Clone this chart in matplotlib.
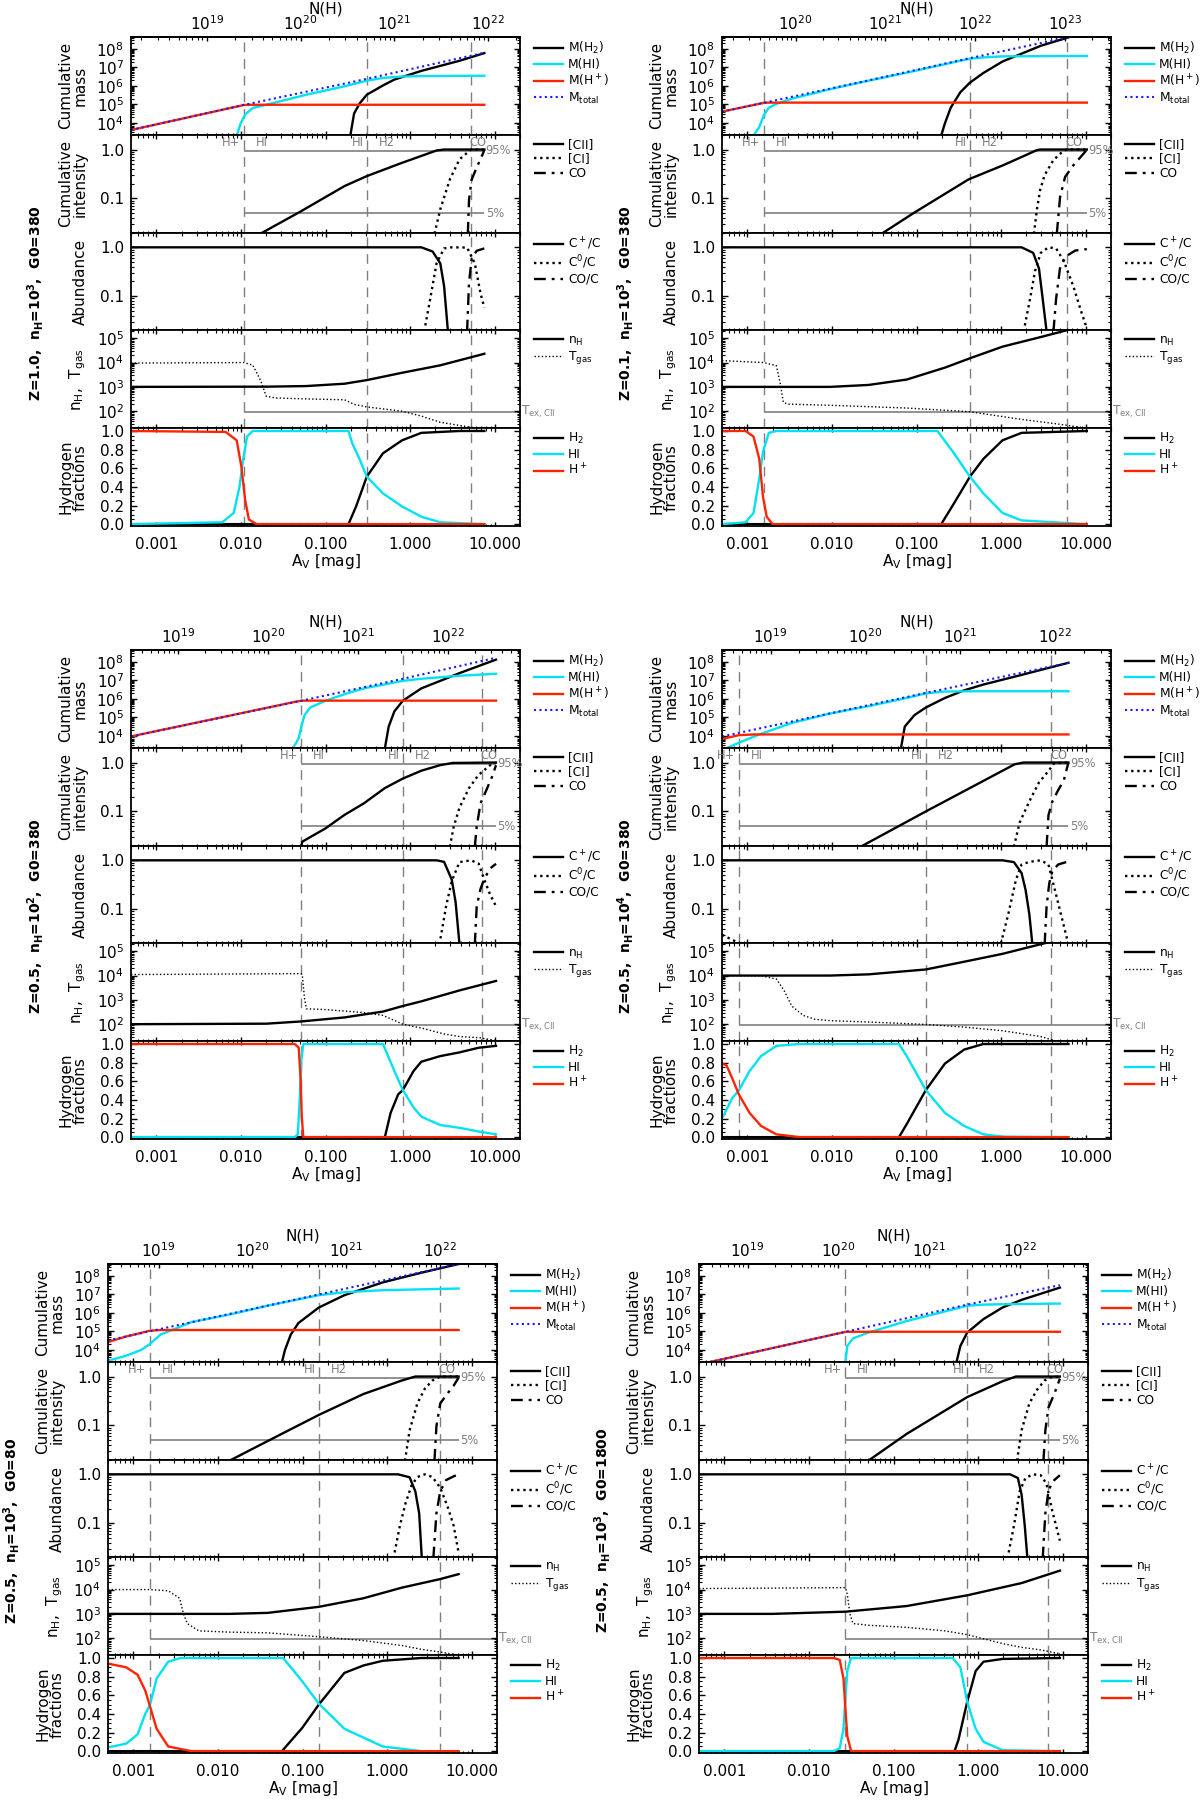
import numpy as np
import matplotlib
matplotlib.use('Agg')
import matplotlib.pyplot as plt
from matplotlib.ticker import (FixedLocator, FixedFormatter, NullFormatter,
                               LogLocator, LogFormatterSciNotation,
                               MultipleLocator, FormatStrFormatter)

plt.rcParams['font.family'] = ['DejaVu Sans']
plt.rcParams['mathtext.default'] = 'regular'
plt.rcParams['axes.linewidth'] = 1.3

# ---------------- axis labels / ticks ----------------
XTICKS = [1e-3, 1e-2, 1e-1, 1.0, 10.0]
XTICKLABELS = ['0.001', '0.010', '0.100', '1.000', '10.000']
YLABELS = ['Cumulative\nmass', 'Cumulative\nintensity', 'Abundance',
           'n$_H$,  T$_{gas}$', 'Hydrogen\nfractions']
LEG_MASS = ['M(H$_2$)', 'M(HI)', 'M(H$^+$)', 'M$_{total}$']
LEG_INT = ['[CII]', '[CI]', 'CO']
LEG_AB = ['C$^+$/C', 'C$^0$/C', 'CO/C']
LEG_NT = ['n$_H$', 'T$_{gas}$']
LEG_H = ['H$_2$', 'HI', 'H$^+$']
TEX_CII = 91.2

# ================= Panel 1: Z=1.0, nH=1e3, G0=380 =================
P1_TITLE = r'Z=1.0,  n$_\mathbf{H}$=10$^\mathbf{3}$,  G0=380'
P1_BOUNDS = [0.0108, 0.308, 5.26]
P1_AVEND = 7.57
P1_NH_AV = [0.00394, 8.41]
P1_NH_DEC = [19, 22]
P1_MH2_AV = [0.197, 0.218, 0.255, 0.308, 0.478, 0.653, 1.36, 3.85, 7.57]
P1_MH2 = [2.1e3, 3.2e4, 1.15e5, 3.3e5, 1.05e6, 2.2e6, 6.5e6, 2.3e7, 6.0e7]
P1_MHI_AV = [0.0089, 0.0100, 0.0112, 0.0138, 0.0209, 0.0352, 0.0593, 0.168, 0.308, 0.478, 0.805, 1.36, 7.57]
P1_MHI = [2.0e3, 1.0e4, 2.8e4, 6.3e4, 1.0e5, 1.8e5, 3.3e5, 9.5e5, 1.9e6, 2.7e6, 3.2e6, 3.4e6, 3.55e6]
P1_MHP_AV = [5e-4, 0.0095, 0.0108, 0.013, 7.57]
P1_MHP = [4.0e3, 8.0e4, 9.2e4, 9.4e4, 9.4e4]
P1_MTOT_AV = [5e-4, 0.0108, 0.308, 7.57]
P1_MTOT = [4.0e3, 9.2e4, 2.4e6, 6.3e7]
P1_CII_AV = [0.0170, 0.0507, 0.168, 0.308, 0.805, 2.06, 2.53, 7.57]
P1_CII = [0.019, 0.054, 0.179, 0.286, 0.535, 0.955, 1.0, 1.0]
P1_CI_AV = [1.95, 2.28, 2.96, 3.85, 5.26, 7.57]
P1_CI = [0.019, 0.060, 0.245, 0.63, 1.0, 1.0]
P1_CO_AV = [4.83, 4.99, 5.37, 6.15, 7.34, 7.57]
P1_CO = [0.019, 0.095, 0.245, 0.43, 0.85, 1.0]
P1_CP_AV = [5e-4, 1.36, 1.85, 2.28, 2.53, 2.81]
P1_CP = [1.0, 1.0, 0.82, 0.47, 0.16, 0.019]
P1_C0_AV = [1.47, 1.67, 2.06, 2.53, 3.12, 4.73, 5.84, 6.82, 7.57]
P1_C0 = [0.019, 0.062, 0.47, 0.95, 1.0, 0.99, 0.47, 0.115, 0.058]
P1_COC_AV = [4.73, 4.99, 5.37, 6.15, 7.57]
P1_COC = [0.019, 0.19, 0.60, 0.85, 0.95]
P1_NHD_AV = [5e-4, 0.02, 0.059, 0.168, 0.308, 0.805, 2.28, 7.57]
P1_NHD = [1000, 1020, 1080, 1350, 1900, 3800, 7700, 23000]
P1_T_AV = [5e-4, 0.0108, 0.0138, 0.0170, 0.0199, 0.0258, 0.059, 0.168, 0.218, 0.308, 0.805, 1.36, 2.28, 3.85, 7.57]
P1_T = [9500, 10000, 7800, 1900, 410, 350, 320, 295, 190, 150, 100, 63, 35, 26, 18]
P1_FH2_AV = [5e-4, 0.187, 0.230, 0.308, 0.478, 0.805, 1.36, 3.85, 7.57]
P1_FH2 = [0.0, 0.0, 0.19, 0.51, 0.76, 0.90, 0.98, 1.0, 1.0]
P1_FHI_AV = [5e-4, 0.0060, 0.0082, 0.0096, 0.0106, 0.0118, 0.0138, 0.187, 0.207, 0.255, 0.308, 0.478, 0.805, 1.36, 2.28, 7.57]
P1_FHI = [0.0, 0.02, 0.12, 0.40, 0.69, 0.94, 1.0, 1.0, 0.87, 0.69, 0.51, 0.33, 0.19, 0.08, 0.02, 0.0]
P1_FHP_AV = [5e-4, 0.0066, 0.0089, 0.0101, 0.0112, 0.0124, 0.0153, 7.57]
P1_FHP = [1.0, 0.99, 0.90, 0.62, 0.26, 0.05, 0.0, 0.0]

# ================= Panel 2: Z=0.1, nH=1e3, G0=380 =================
P2_TITLE = r'Z=0.1,  n$_\mathbf{H}$=10$^\mathbf{3}$,  G0=380'
P2_BOUNDS = [0.00156, 0.429, 6.0]
P2_AVEND = 10.35
P2_NH_AV = [0.00371, 5.70]
P2_NH_DEC = [20, 23]
P2_MH2_AV = [0.196, 0.217, 0.254, 0.330, 0.429, 0.618, 1.04, 1.75, 2.95, 6.47, 10.35]
P2_MH2 = [2.0e3, 9.3e3, 6.5e4, 4.5e5, 1.5e6, 5.0e6, 2.1e7, 5.6e7, 1.5e8, 4.5e8, 7.9e8]
P2_MHI_AV = [0.00118, 0.00138, 0.00156, 0.00179, 0.00220, 0.00334, 0.00949, 0.0270, 0.0766, 0.217, 0.429, 0.618, 1.04, 10.35]
P2_MHI = [2.0e3, 5.8e3, 2.5e4, 6.5e4, 1.05e5, 2.0e5, 6.6e5, 1.9e6, 5.2e6, 1.5e7, 3.0e7, 3.5e7, 4.0e7, 4.2e7]
P2_MHP_AV = [5e-4, 0.00140, 0.00156, 0.0018, 10.35]
P2_MHP = [4.0e4, 1.07e5, 1.2e5, 1.23e5, 1.23e5]
P2_MTOT_AV = [5e-4, 0.00156, 0.0245, 0.429, 10.35]
P2_MTOT = [4.0e4, 1.2e5, 1.8e6, 3.2e7, 7.2e8]
P2_CII_AV = [0.0388, 0.092, 0.413, 1.07, 2.65, 2.9, 10.35]
P2_CII = [0.019, 0.05, 0.245, 0.48, 0.97, 1.0, 1.0]
P2_CI_AV = [2.45, 2.66, 2.9, 3.28, 4.17, 5.47, 6.0, 10.35]
P2_CI = [0.019, 0.06, 0.148, 0.30, 0.61, 0.94, 1.0, 1.0]
P2_CO_AV = [4.57, 5.0, 5.73, 7.2, 9.9, 10.35]
P2_CO = [0.019, 0.108, 0.277, 0.48, 0.90, 1.0]
P2_CP_AV = [5e-4, 1.75, 2.40, 2.81, 3.11, 3.46]
P2_CP = [1.0, 1.0, 0.77, 0.37, 0.089, 0.019]
P2_C0_AV = [1.85, 2.16, 2.53, 2.95, 3.64, 4.48, 5.52, 7.17, 8.83, 10.35]
P2_C0 = [0.019, 0.073, 0.33, 0.77, 1.0, 0.95, 0.53, 0.16, 0.05, 0.022]
P2_COC_AV = [4.17, 4.48, 4.98, 5.82, 7.57, 10.35]
P2_COC = [0.019, 0.088, 0.37, 0.65, 0.86, 0.92]
P2_NHD_AV = [5e-4, 0.00949, 0.027, 0.0766, 0.217, 0.429, 1.04, 2.95, 10.35]
P2_NHD = [1000, 1000, 1200, 2000, 6200, 15000, 45000, 112000, 350000]
P2_T_AV = [5e-4, 0.00156, 0.00220, 0.00244, 0.00266, 0.00301, 0.00949, 0.0766, 0.429, 1.75, 4.98, 10.35]
P2_T = [12000, 10000, 7400, 1450, 230, 195, 175, 135, 95, 46, 29, 20]
P2_FH2_AV = [5e-4, 0.196, 0.268, 0.429, 0.618, 1.04, 1.75, 10.35]
P2_FH2 = [0.0, 0.0, 0.20, 0.51, 0.70, 0.90, 0.98, 1.0]
P2_FHI_AV = [5e-4, 0.00095, 0.00118, 0.00138, 0.00153, 0.00179, 0.00220, 0.177, 0.268, 0.429, 0.618, 1.04, 1.75, 10.35]
P2_FHI = [0.0, 0.02, 0.12, 0.49, 0.78, 0.98, 1.0, 1.0, 0.78, 0.51, 0.33, 0.12, 0.04, 0.0]
P2_FHP_AV = [5e-4, 0.00095, 0.00118, 0.00138, 0.00153, 0.00169, 0.00198, 10.35]
P2_FHP = [1.0, 1.0, 0.94, 0.70, 0.29, 0.08, 0.0, 0.0]

# ================= Panel 3: Z=0.5, nH=1e2, G0=380 =================
P3_TITLE = r'Z=0.5,  n$_\mathbf{H}$=10$^\mathbf{2}$,  G0=380'
P3_BOUNDS = [0.0518, 0.822, 7.1]
P3_AVEND = 10.4
P3_NH_AV = [0.00180, 2.81]
P3_NH_DEC = [19, 22]
P3_MH2_AV = [0.504, 0.559, 0.653, 0.822, 1.36, 2.28, 3.85, 10.4]
P3_MH2 = [2.1e3, 3.1e4, 2.1e5, 7.9e5, 3.7e6, 9.5e6, 2.5e7, 1.35e8]
P3_MHI_AV = [0.0412, 0.0482, 0.0518, 0.0564, 0.0659, 0.100, 0.168, 0.284, 0.822, 1.36, 3.85, 10.4]
P3_MHI = [2.1e3, 7.2e3, 3.1e4, 1.3e5, 3.4e5, 7.9e5, 1.8e6, 3.7e6, 9.5e6, 1.23e7, 1.8e7, 2.3e7]
P3_MHP_AV = [5e-4, 0.045, 0.0518, 0.06, 10.4]
P3_MHP = [9.1e3, 7.1e5, 7.9e5, 8.0e5, 8.0e5]
P3_MTOT_AV = [5e-4, 0.0518, 0.822, 10.4]
P3_MTOT = [9.1e3, 7.9e5, 1.23e7, 1.7e8]
P3_CII_AV = [0.0518, 0.0530, 0.100, 0.168, 0.284, 0.504, 0.822, 1.36, 2.28, 3.2, 10.4]
P3_CII = [0.019, 0.024, 0.045, 0.085, 0.146, 0.30, 0.47, 0.68, 0.885, 0.98, 1.0]
P3_CI_AV = [2.96, 3.29, 3.85, 4.99, 6.48, 8.85, 10.4]
P3_CI = [0.019, 0.049, 0.12, 0.30, 0.56, 0.88, 1.0]
P3_CO_AV = [5.84, 6.15, 6.82, 7.98, 9.33, 10.4]
P3_CO = [0.019, 0.049, 0.146, 0.27, 0.51, 0.88]
P3_CP_AV = [5e-4, 2.06, 2.53, 3.12, 3.46, 3.85]
P3_CP = [1.0, 1.0, 0.93, 0.40, 0.14, 0.019]
P3_C0_AV = [2.23, 2.67, 3.12, 3.85, 5.26, 6.48, 7.57, 8.85, 10.4]
P3_C0 = [0.019, 0.115, 0.38, 0.92, 1.0, 0.86, 0.40, 0.20, 0.115]
P3_COC_AV = [5.84, 6.15, 6.82, 7.57, 8.85, 10.4]
P3_COC = [0.019, 0.115, 0.26, 0.42, 0.68, 0.85]
P3_NHD_AV = [5e-4, 0.02, 0.0518, 0.168, 0.478, 0.822, 1.36, 3.85, 10.4]
P3_NHD = [100, 105, 130, 190, 330, 560, 870, 2450, 6000]
P3_T_AV = [5e-4, 0.0518, 0.0534, 0.0564, 0.0593, 0.100, 0.284, 0.478, 0.822, 1.36, 2.5, 3.85, 6.5, 10.4]
P3_T = [11000, 12000, 8700, 1200, 430, 400, 300, 230, 100, 70, 40, 31, 28, 21]
P3_FH2_AV = [5e-4, 0.504, 0.589, 0.725, 0.822, 1.10, 1.36, 2.28, 3.85, 6.5, 10.4]
P3_FH2 = [0.0, 0.0, 0.26, 0.46, 0.505, 0.71, 0.81, 0.87, 0.91, 0.96, 0.98]
P3_FHI_AV = [5e-4, 0.0433, 0.0471, 0.0496, 0.0518, 0.0546, 0.478, 0.653, 0.822, 1.10, 1.36, 2.28, 3.85, 6.5, 10.4]
P3_FHI = [0.0, 0.0, 0.03, 0.42, 0.83, 1.0, 1.0, 0.71, 0.505, 0.32, 0.22, 0.13, 0.10, 0.06, 0.03]
P3_FHP_AV = [5e-4, 0.0433, 0.0482, 0.0507, 0.0524, 0.0546, 10.4]
P3_FHP = [1.0, 1.0, 0.96, 0.63, 0.22, 0.0, 0.0]

# ================= Panel 4: Z=0.5, nH=1e4, G0=380 =================
P4_TITLE = r'Z=0.5,  n$_\mathbf{H}$=10$^\mathbf{4}$,  G0=380'
P4_BOUNDS = [0.00079, 0.129, 3.95]
P4_AVEND = 6.27
P4_NH_AV = [0.00188, 4.40]
P4_NH_DEC = [19, 22]
P4_MH2_AV = [0.0655, 0.0726, 0.0944, 0.129, 0.217, 0.366, 0.618, 1.75, 6.27]
P4_MH2 = [2.1e3, 3.1e4, 1.3e5, 3.4e5, 1.12e6, 2.9e6, 6.0e6, 2.0e7, 9.1e7]
P4_MHI_AV = [5.66e-4, 7.9e-4, 0.00138, 0.00334, 0.00949, 0.027, 0.0766, 0.129, 0.217, 0.618, 6.27]
P4_MHI = [2.1e3, 4.1e3, 1.17e4, 4.9e4, 1.6e5, 4.0e5, 1.12e6, 2.0e6, 2.5e6, 2.6e6, 2.6e6]
P4_MHP_AV = [5e-4, 0.00079, 0.0012, 6.27]
P4_MHP = [6.6e3, 1.07e4, 1.17e4, 1.17e4]
P4_MTOT_AV = [5e-4, 0.129, 6.27]
P4_MTOT = [9.1e3, 2.1e6, 9.1e7]
P4_CII_AV = [0.0219, 0.129, 1.45, 1.85, 6.27]
P4_CII = [0.019, 0.10, 0.92, 1.0, 1.0]
P4_CI_AV = [1.42, 1.66, 2.16, 2.81, 3.64, 4.26, 6.27]
P4_CI = [0.019, 0.059, 0.16, 0.39, 0.67, 0.97, 1.0]
P4_CO_AV = [3.46, 3.64, 4.05, 4.73, 5.53, 6.27]
P4_CO = [0.019, 0.084, 0.16, 0.27, 0.43, 1.0]
P4_CP_AV = [5e-4, 1.04, 1.42, 1.75, 1.95, 2.16, 2.35]
P4_CP = [1.0, 1.0, 0.92, 0.55, 0.25, 0.08, 0.019]
P4_C0_AV = [5e-4, 8.6e-4, 0.002, 0.99, 1.22, 1.50, 1.75, 2.16, 2.95, 3.64, 4.26, 4.98, 6.27]
P4_C0 = [0.030, 0.019, 0.005, 0.019, 0.08, 0.40, 0.82, 0.93, 1.0, 0.82, 0.28, 0.095, 0.019]
P4_COC_AV = [3.28, 3.46, 3.72, 4.05, 4.73, 6.27]
P4_COC = [0.019, 0.115, 0.34, 0.60, 0.82, 0.95]
P4_NHD_AV = [5e-4, 0.00949, 0.027, 0.129, 0.366, 1.04, 3.28, 6.27]
P4_NHD = [10000, 10000, 11200, 17800, 37000, 78000, 214000, 330000]
P4_T_AV = [5e-4, 0.00145, 0.0022, 0.00271, 0.00334, 0.00457, 0.00625, 0.0095, 0.027, 0.129, 0.366, 1.04, 2.95, 3.95, 6.27]
P4_T = [9800, 9800, 7200, 2450, 560, 230, 160, 140, 123, 98, 76, 54, 31, 23, 15]
P4_FH2_AV = [5e-4, 0.0621, 0.0766, 0.129, 0.217, 0.366, 0.618, 6.27]
P4_FH2 = [0.0, 0.0, 0.14, 0.505, 0.79, 0.94, 1.0, 1.0]
P4_FHI_AV = [5e-4, 6.62e-4, 7.9e-4, 0.00106, 0.00145, 0.0022, 0.00412, 0.0621, 0.0766, 0.129, 0.217, 0.366, 0.618, 1.04, 6.27]
P4_FHI = [0.20, 0.42, 0.50, 0.71, 0.87, 0.98, 1.0, 1.0, 0.87, 0.505, 0.26, 0.12, 0.03, 0.005, 0.0]
P4_FHP_AV = [5e-4, 5.66e-4, 6.62e-4, 7.9e-4, 0.00106, 0.00145, 0.0022, 0.00412, 6.27]
P4_FHP = [0.79, 0.77, 0.63, 0.46, 0.26, 0.12, 0.03, 0.0, 0.0]

# ================= Panel 5: Z=0.5, nH=1e3, G0=80 =================
P5_TITLE = r'Z=0.5,  n$_\mathbf{H}$=10$^\mathbf{3}$,  G0=80'
P5_BOUNDS = [0.00156, 0.156, 4.26]
P5_AVEND = 7.03
P5_NH_AV = [0.00198, 4.26]
P5_NH_DEC = [19, 22]
P5_MH2_AV = [0.0571, 0.0621, 0.0726, 0.0895, 0.156, 0.313, 0.889, 2.53, 7.03]
P5_MH2 = [2.1e3, 9.8e3, 6.6e4, 2.8e5, 1.95e6, 9.1e6, 4.5e7, 1.5e8, 4.5e8]
P5_MHI_AV = [5e-4, 8.2e-4, 0.00124, 0.00156, 0.00209, 0.00286, 0.00482, 0.0137, 0.0388, 0.156, 0.313, 0.889, 7.03]
P5_MHI = [2.5e3, 4.7e3, 9.8e3, 2.0e4, 6.6e4, 1.17e5, 3.1e5, 8.1e5, 2.45e6, 9.1e6, 1.32e7, 1.7e7, 2.1e7]
P5_MHP_AV = [5e-4, 8.2e-4, 0.00156, 0.00209, 7.03]
P5_MHP = [2.6e4, 5.2e4, 1.07e5, 1.17e5, 1.17e5]
P5_MTOT_AV = [5e-4, 0.156, 7.03]
P5_MTOT = [3.2e4, 1.0e7, 4.5e8]
P5_CII_AV = [0.0137, 0.0388, 0.156, 0.528, 1.50, 2.16, 7.03]
P5_CII = [0.019, 0.048, 0.164, 0.44, 0.83, 1.0, 1.0]
P5_CI_AV = [1.63, 1.85, 2.28, 2.81, 3.45, 4.26, 7.03]
P5_CI = [0.019, 0.079, 0.28, 0.57, 0.83, 1.0, 1.0]
P5_CO_AV = [3.64, 3.84, 4.26, 4.98, 6.14, 7.03]
P5_CO = [0.019, 0.096, 0.28, 0.41, 0.65, 0.95]
P5_CP_AV = [5e-4, 1.35, 1.85, 2.16, 2.40, 2.58]
P5_CP = [1.0, 1.0, 0.87, 0.45, 0.16, 0.019]
P5_C0_AV = [1.19, 1.42, 1.66, 1.95, 2.28, 2.81, 3.45, 4.26, 5.2, 6.14, 7.03]
P5_C0 = [0.019, 0.089, 0.26, 0.59, 0.88, 1.0, 0.88, 0.53, 0.22, 0.089, 0.025]
P5_COC_AV = [3.53, 3.84, 4.26, 4.98, 6.14, 7.03]
P5_COC = [0.019, 0.16, 0.45, 0.76, 0.91, 1.0]
P5_NHD_AV = [5e-4, 0.0137, 0.0388, 0.156, 0.528, 1.50, 4.26, 7.03]
P5_NHD = [1000, 1000, 1100, 1950, 4400, 12000, 27000, 43000]
P5_T_AV = [5e-4, 0.00156, 0.00258, 0.00352, 0.00391, 0.00434, 0.00593, 0.0137, 0.0388, 0.156, 0.528, 1.50, 2.53, 4.26, 7.03]
P5_T = [10000, 10000, 8900, 4400, 1000, 400, 200, 178, 166, 115, 80, 50, 35, 27, 20]
P5_FH2_AV = [5e-4, 0.0571, 0.0993, 0.156, 0.313, 0.528, 0.889, 2.53, 7.03]
P5_FH2 = [0.0, 0.0, 0.25, 0.5, 0.84, 0.92, 0.97, 1.0, 1.0]
P5_FHI_AV = [5e-4, 8.2e-4, 0.00112, 0.00138, 0.00156, 0.00188, 0.00258, 0.0036, 0.059, 0.0993, 0.156, 0.313, 0.889, 2.53, 7.03]
P5_FHI = [0.04, 0.08, 0.18, 0.40, 0.49, 0.78, 0.96, 1.0, 1.0, 0.75, 0.51, 0.24, 0.05, 0.0, 0.0]
P5_FHP_AV = [5e-4, 8.2e-4, 0.00112, 0.00138, 0.00156, 0.00188, 0.00258, 0.00482, 7.03]
P5_FHP = [0.94, 0.90, 0.82, 0.65, 0.49, 0.24, 0.05, 0.0, 0.0]

# ================= Panel 6: Z=0.5, nH=1e3, G0=1800 =================
P6_TITLE = r'Z=0.5,  n$_\mathbf{H}$=10$^\mathbf{3}$,  G0=1800'
P6_BOUNDS = [0.027, 0.745, 6.67]
P6_AVEND = 9.3
P6_NH_AV = [0.00188, 3.11]
P6_NH_DEC = [19, 22]
P6_MH2_AV = [0.556, 0.618, 0.745, 1.16, 1.95, 3.28, 9.3]
P6_MH2 = [2.1e3, 1.6e4, 8.5e4, 4.6e5, 1.95e6, 5.1e6, 2.35e7]
P6_MHI_AV = [0.027, 0.0284, 0.0332, 0.0504, 0.0849, 0.143, 0.407, 0.745, 1.16, 1.95, 9.3]
P6_MHI = [2.1e3, 1.6e4, 4.1e4, 8.5e4, 1.74e5, 3.6e5, 1.2e6, 2.45e6, 2.8e6, 2.95e6, 3.2e6]
P6_MHP_AV = [6.6e-4, 0.025, 0.027, 0.03, 9.3]
P6_MHP = [2.1e3, 8.6e4, 9.3e4, 9.4e4, 9.4e4]
P6_MTOT_AV = [6.6e-4, 0.027, 0.745, 9.3]
P6_MTOT = [2.1e3, 9.3e4, 2.8e6, 3.2e7]
P6_CII_AV = [0.0504, 0.143, 0.745, 1.95, 2.81, 9.3]
P6_CII = [0.019, 0.067, 0.38, 0.80, 1.0, 1.0]
P6_CI_AV = [2.89, 3.28, 4.04, 4.97, 6.13, 7.17, 9.3]
P6_CI = [0.019, 0.08, 0.28, 0.53, 0.83, 0.96, 1.0]
P6_CO_AV = [5.94, 6.26, 6.81, 7.97, 9.3]
P6_CO = [0.019, 0.08, 0.23, 0.44, 0.90]
P6_CP_AV = [5e-4, 2.40, 2.96, 3.28, 3.57, 3.84]
P6_CP = [1.0, 1.0, 0.84, 0.38, 0.09, 0.019]
P6_C0_AV = [2.23, 2.66, 3.11, 3.64, 4.48, 5.52, 6.46, 7.55, 8.84, 9.3]
P6_C0 = [0.019, 0.089, 0.45, 0.84, 1.0, 0.96, 0.64, 0.18, 0.062, 0.044]
P6_COC_AV = [5.82, 6.26, 6.81, 7.55, 9.3]
P6_COC = [0.019, 0.16, 0.45, 0.70, 0.96]
P6_NHD_AV = [5e-4, 0.0037, 0.027, 0.143, 0.745, 3.28, 9.3]
P6_NHD = [1000, 1000, 1230, 2100, 5800, 18500, 60000]
P6_T_AV = [5e-4, 0.027, 0.0284, 0.0305, 0.0332, 0.0504, 0.143, 0.407, 0.745, 1.95, 3.28, 5.52, 9.3]
P6_T = [11000, 12000, 6300, 1000, 400, 340, 280, 200, 140, 60, 42, 33, 23]
P6_FH2_AV = [5e-4, 0.527, 0.586, 0.745, 0.937, 1.16, 1.95, 9.3]
P6_FH2 = [0.0, 0.0, 0.12, 0.53, 0.86, 0.96, 0.99, 1.0]
P6_FHI_AV = [5e-4, 0.0197, 0.0231, 0.0256, 0.027, 0.0284, 0.0315, 0.501, 0.618, 0.745, 0.937, 1.16, 1.95, 9.3]
P6_FHI = [0.0, 0.0, 0.03, 0.24, 0.57, 0.86, 1.0, 1.0, 0.90, 0.53, 0.24, 0.10, 0.01, 0.0]
P6_FHP_AV = [5e-4, 0.0197, 0.0231, 0.0256, 0.027, 0.0284, 0.0315, 9.3]
P6_FHP = [1.0, 1.0, 0.98, 0.78, 0.45, 0.16, 0.0, 0.0]

# ---------------- layout / style ----------------
W, H = 1200, 1801
AW = 389.0
SH = 97.8
FS = 11
SFS = 8.8
AFS = 8.3
GRAY = '#7f7f7f'
CYAN = '#00e2f2'
RED = '#ff2400'
BLUE = '#1a1aff'
LW = 1.7
DOT = (0, (1, 1.6))
DASHDOT = (0, (5, 2.5, 1.2, 2.5))
XLIM = (5e-4, 20)
YLIMS = [(2.2e3, 4.5e8), (0.02, 2.0), (0.02, 2.0), (20, 2.1e5), (-0.02, 1.03)]

g = globals()
PANELS = []
for k, (left, top, tx) in enumerate([(131, 37, 36), (722, 37, 625), (131, 650, 36),
                                     (722, 650, 625), (108, 1264, 12), (699, 1264, 603)], start=1):
    p = dict(left=left, top=top, tx=tx)
    for key in ['TITLE', 'BOUNDS', 'AVEND', 'NH_AV', 'NH_DEC']:
        p[key] = g['P%d_%s' % (k, key)]
    for key in ['MH2', 'MHI', 'MHP', 'MTOT', 'CII', 'CI', 'CO', 'CP', 'C0', 'COC',
                'NHD', 'T', 'FH2', 'FHI', 'FHP']:
        p[key] = (g['P%d_%s_AV' % (k, key)], g['P%d_%s' % (k, key)])
    PANELS.append(p)

fig = plt.figure(figsize=(W / 100, H / 100), dpi=100)


def nh_functions(av_pts, dec_pts):
    la0, la1 = np.log10(av_pts[0]), np.log10(av_pts[1])
    slope = (dec_pts[1] - dec_pts[0]) / (la1 - la0)

    def fwd(x):
        x = np.asarray(x, dtype=float)
        with np.errstate(all='ignore'):
            return 10 ** (dec_pts[0] + slope * (np.log10(x) - la0))

    def inv(n):
        n = np.asarray(n, dtype=float)
        with np.errstate(all='ignore'):
            return 10 ** (la0 + (np.log10(n) - dec_pts[0]) / slope)
    return fwd, inv


def legend(ax):
    ax.legend(loc='upper left', bbox_to_anchor=(1 + 14 / AW, 1 - 3 / SH),
              frameon=False, fontsize=SFS, handlelength=2.35, handletextpad=0.45,
              labelspacing=0.14, borderpad=0, borderaxespad=0)


def draw_panel(p):
    axs = []
    for i in range(5):
        b = 1 - (p['top'] + (i + 1) * SH) / H
        axs.append(fig.add_axes([p['left'] / W, b, AW / W, SH / H]))
    for i, ax in enumerate(axs):
        ax.set_xscale('log')
        ax.set_xlim(*XLIM)
        if i != 4:
            ax.set_yscale('log')
        ax.set_ylim(*YLIMS[i])
        ax.xaxis.set_major_locator(FixedLocator(XTICKS))
        ax.xaxis.set_major_formatter(FixedFormatter(XTICKLABELS))
        ax.xaxis.set_minor_locator(LogLocator(base=10, subs=np.arange(2, 10), numticks=30))
        ax.xaxis.set_minor_formatter(NullFormatter())
        ax.tick_params(axis='x', which='both', direction='in', top=(i != 0), bottom=True,
                       labelbottom=(i == 4), labelsize=FS, pad=8)
        ax.tick_params(axis='x', which='major', length=3, width=1)
        ax.tick_params(axis='x', which='minor', length=1.8, width=0.8)
        ax.tick_params(axis='y', which='both', direction='in', left=True, right=True,
                       labelsize=FS, pad=5)
        ax.tick_params(axis='y', which='major', length=4.5, width=1)
        ax.tick_params(axis='y', which='minor', length=2.3, width=0.8)
        ax.set_ylabel(YLABELS[i], fontsize=FS, linespacing=0.95)
        ax.yaxis.set_label_coords(-43 / AW, 0.5)
        for bnd in p['BOUNDS']:
            ax.axvline(bnd, color=GRAY, lw=1.0, ls=(0, (7, 5)), zorder=1)

    axs[0].yaxis.set_major_locator(FixedLocator([1e4, 1e5, 1e6, 1e7, 1e8]))
    axs[0].yaxis.set_major_formatter(LogFormatterSciNotation())
    for ax in axs[1:3]:
        ax.yaxis.set_major_locator(FixedLocator([0.1, 1.0]))
        ax.yaxis.set_major_formatter(FixedFormatter(['0.1', '1.0']))
    axs[3].yaxis.set_major_locator(FixedLocator([1e2, 1e3, 1e4, 1e5]))
    axs[3].yaxis.set_major_formatter(LogFormatterSciNotation())
    for ax in axs[:4]:
        ax.yaxis.set_minor_locator(LogLocator(base=10, subs=np.arange(2, 10), numticks=30))
        ax.yaxis.set_minor_formatter(NullFormatter())
    axs[4].yaxis.set_major_locator(MultipleLocator(0.2))
    axs[4].yaxis.set_major_formatter(FormatStrFormatter('%.1f'))
    axs[4].yaxis.set_minor_locator(MultipleLocator(0.05))
    axs[4].set_xlabel('A$_V$ [mag]', fontsize=FS, labelpad=0)

    # top N(H) axis
    fwd, inv = nh_functions(p['NH_AV'], p['NH_DEC'])
    sec = axs[0].secondary_xaxis('top', functions=(fwd, inv))
    decs = [10.0 ** k for k in range(p['NH_DEC'][0], p['NH_DEC'][1] + 1)]
    sec.xaxis.set_major_locator(FixedLocator(decs))
    sec.xaxis.set_major_formatter(LogFormatterSciNotation())
    sec.xaxis.set_minor_locator(LogLocator(base=10, subs=np.arange(2, 10), numticks=40))
    sec.xaxis.set_minor_formatter(NullFormatter())
    sec.tick_params(which='both', direction='in', labelsize=FS, pad=3)
    sec.tick_params(which='major', length=3, width=1)
    sec.tick_params(which='minor', length=1.8, width=0.8)
    axs[0].text(0.5, 1 + 28 / SH, 'N(H)', transform=axs[0].transAxes,
                ha='center', va='center', fontsize=FS)

    # mass
    ax = axs[0]
    ax.plot(*p['MH2'], color='k', lw=LW, label=LEG_MASS[0])
    ax.plot(*p['MHI'], color=CYAN, lw=LW, label=LEG_MASS[1])
    ax.plot(*p['MHP'], color=RED, lw=LW, label=LEG_MASS[2])
    ax.plot(*p['MTOT'], color=BLUE, lw=1.5, ls=DOT, label=LEG_MASS[3])
    legend(ax)

    # cumulative intensity
    ax = axs[1]
    b0, b1, b2 = p['BOUNDS']
    ax.hlines([0.95, 0.05], b0, p['AVEND'], colors=GRAY, lw=1.2, zorder=1)
    ax.plot(*p['CII'], color='k', lw=LW, label=LEG_INT[0])
    ax.plot(*p['CI'], color='k', lw=LW, ls=DOT, label=LEG_INT[1])
    ax.plot(*p['CO'], color='k', lw=LW, ls=DASHDOT, label=LEG_INT[2])
    legend(ax)
    tk = dict(textcoords='offset points', va='center', color=GRAY, fontsize=AFS)
    ax.annotate('H+', (b0, 1.39), xytext=(-2.5, 0), ha='right', **tk)
    ax.annotate('HI', (b0, 1.39), xytext=(8.5, 0), ha='left', **tk)
    ax.annotate('HI', (b1, 1.39), xytext=(-2, 0), ha='right', **tk)
    ax.annotate('H2', (b1, 1.39), xytext=(8.5, 0), ha='left', **tk)
    ax.annotate('CO', (b2, 1.39), xytext=(-1, 0), ha='left', **tk)
    ax.annotate('95%', (p['AVEND'], 0.95), xytext=(1, 0), ha='left', **tk)
    ax.annotate('5%', (p['AVEND'], 0.05), xytext=(1, 0), ha='left', **tk)

    # abundance
    ax = axs[2]
    ax.plot(*p['CP'], color='k', lw=LW, label=LEG_AB[0])
    ax.plot(*p['C0'], color='k', lw=LW, ls=DOT, label=LEG_AB[1])
    ax.plot(*p['COC'], color='k', lw=LW, ls=DASHDOT, label=LEG_AB[2])
    legend(ax)

    # density / temperature
    ax = axs[3]
    ax.hlines(TEX_CII, b0, XLIM[1], colors=GRAY, lw=1.2, zorder=1)
    ax.plot(*p['NHD'], color='k', lw=LW, label=LEG_NT[0])
    ax.plot(*p['T'], color='k', lw=1.0, ls=DOT, label=LEG_NT[1])
    legend(ax)
    ax.text(1.003, TEX_CII, 'T$_{ex,CII}$', transform=ax.get_yaxis_transform(),
            ha='left', va='center', color=GRAY, fontsize=SFS)

    # hydrogen fractions
    ax = axs[4]
    ax.plot(*p['FH2'], color='k', lw=LW, label=LEG_H[0])
    ax.plot(*p['FHI'], color=CYAN, lw=LW, label=LEG_H[1])
    ax.plot(*p['FHP'], color=RED, lw=LW, label=LEG_H[2])
    legend(ax)

    # row title
    yc = p['top'] + 2.5 * SH + 22
    fig.text(p['tx'] / W, 1 - yc / H, p['TITLE'], rotation=90, ha='center', va='center',
             fontsize=10, fontweight='bold')


for p in PANELS:
    draw_panel(p)

fig.savefig('out.png', dpi=100)
